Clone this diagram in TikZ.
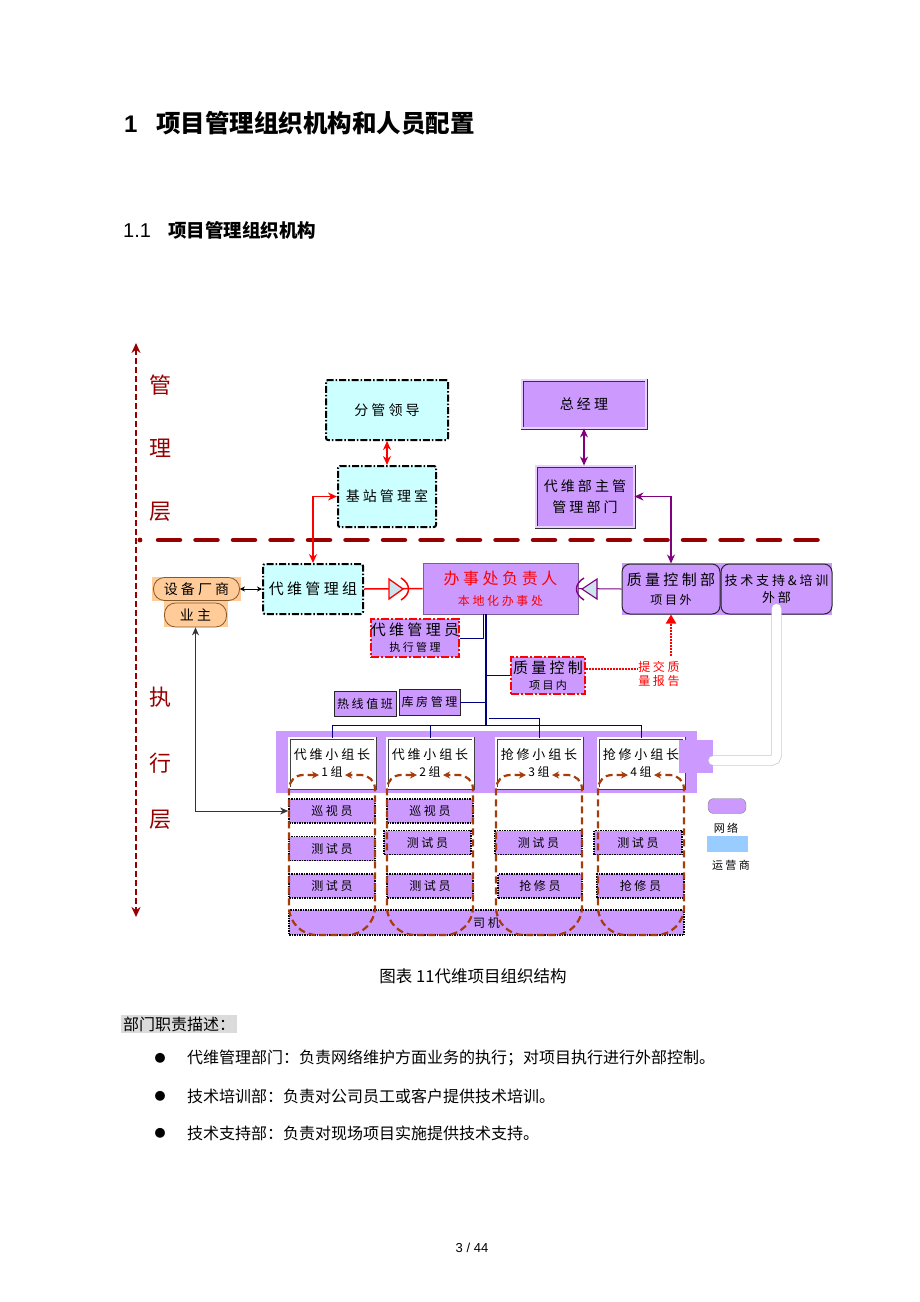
\documentclass[tikz,border=0pt]{standalone}
\usepackage{fontspec}
\setmainfont{Noto Sans CJK SC}
\newfontfamily\wide[LetterSpace=22]{Noto Sans CJK SC}
\newfontfamily\arial{Liberation Sans}
\usetikzlibrary{arrows.meta}
\tikzset {>=Stealth}
\definecolor{lilac}{RGB}{204,153,255}
\definecolor{paleCyan}{RGB}{204,255,255}
\definecolor{axisred}{RGB}{150,0,0}
\definecolor{grpbrown}{RGB}{165,60,10}
\definecolor{navyline}{RGB}{0,0,128}
\definecolor{peach}{RGB}{255,204,153}
\definecolor{skyblue}{RGB}{153,204,255}
\definecolor{plum}{RGB}{128,0,128}
\definecolor{diodefill}{RGB}{205,228,238}
\newcommand\fsz[1]{\fontsize{#1}{#1}\selectfont}
\tikzset{
  cyanbox/.style={draw=black,fill=paleCyan,line width=2pt,
    dash pattern=on 7pt off 2pt on 1.5pt off 2pt,rounded corners=2pt,
    align=center,inner sep=0pt},
  purbox/.style={fill=lilac,draw=black!80,double=lilac!45!white,
    double distance=1.2pt,line width=0.9pt,align=center,inner sep=0pt},
  redbox/.style={fill=lilac,draw=red,line width=2pt,
    dash pattern=on 8pt off 2pt on 2pt off 2pt,align=center,inner sep=0pt},
  plainbox/.style={fill=lilac,draw=black!85,line width=0.9pt,
    align=center,inner sep=0pt},
  roundbox/.style={fill=lilac,draw=black!85,line width=1pt,
    rounded corners=8pt,align=center,inner sep=0pt},
  vendorbox/.style={fill=peach,draw=brown!70!black,line width=0.8pt,
    rounded corners=11pt,inner sep=0pt,font=\wide\fsz{14}},
  leader/.style={fill=white,draw=black!75,double=white,double distance=1.4pt,
    line width=0.8pt,align=center,inner sep=0pt,font=\wide\fsz{13},
    minimum width=86pt,minimum height=50pt},
  member/.style={fill=lilac,draw=black,line width=1.8pt,
    dash pattern=on 1.5pt off 1pt,inner sep=0pt,font=\wide\fsz{12},
    minimum height=24pt},
  grp/.style={draw=grpbrown,line width=2.2pt,dash pattern=on 7pt off 4pt,
    {Stealth[length=7pt,width=7pt]}-{Stealth[length=7pt,width=7pt]}},
  layer/.style={text=axisred,font=\fsz{22},inner sep=0pt},
  redarrow/.style={red,line width=1.5pt,
    {Stealth[length=9pt,width=8pt]}-{Stealth[length=9pt,width=8pt]}},
  purarrow/.style={plum,line width=1.2pt,
    {Stealth[length=9pt,width=8pt]}-{Stealth[length=9pt,width=8pt]}},
  tree/.style={navyline,line width=0.9pt},
}

\begin{document}
\begin{tikzpicture}[x=1pt,y=-1pt]
\useasboundingbox (0,0) rectangle (920,1302);

% headings
\node[anchor=base west,font=\arial\bfseries\fsz{24},inner sep=0pt] (h1num) at (124,132) {1};
\node[anchor=base west,font=\bfseries\fsz{24.5},inner sep=0pt] (h1) at (156,132) {项目管理组织机构和人员配置};
\node[anchor=base west,font=\arial\fsz{20},inner sep=0pt] (h2num) at (123,237) {1.1};
\node[anchor=base west,font=\bfseries\fsz{18.5},inner sep=0pt] (h2) at (168,237) {项目管理组织机构};

% layer axis
\draw[axisred,line width=2.5pt,dash pattern=on 6pt off 3pt,
  {Stealth[length=10pt,width=9pt]}-{Stealth[length=10pt,width=9pt]}] (136,343) -- (136,917);
\fill[axisred] (140,540) circle[radius=2.4pt];
\draw[axisred,line width=4.5pt,line cap=round,dash pattern=on 22pt off 15.5pt] (158,540) -- (822,540);
\foreach \t/\y [count=\i] in {管/385,理/448,层/512,执/697,行/763,层/820}
  \node[layer] (lay\i) at (160,\y) {\t};

% management level
\node[cyanbox,minimum width=122pt,minimum height=60pt,font=\wide\fsz{14}] (lead) at (387,410) {分管领导};
\node[cyanbox,minimum width=98pt,minimum height=61pt,font=\wide\fsz{14}] (jizhan) at (387,496.5) {基站管理室};
\node[purbox,minimum width=124pt,minimum height=48pt,font=\wide\fsz{14}] (gm) at (584,404) {总经理};
\node[purbox,minimum width=98pt,minimum height=61pt,font=\wide\fsz{14}] (dept) at (585,496.5)
  {代维部主管\\[7pt]管理部门};

% execution level
\fill[peach] (152,577) rectangle (241,601);
\fill[peach] (164,601) rectangle (228,627);
\node[vendorbox,minimum width=86pt,minimum height=23pt] (vendor) at (196.5,589) {设备厂商};
\node[vendorbox,minimum width=62pt,minimum height=24pt] (owner) at (195.5,615) {业主};
\node[cyanbox,minimum width=100pt,minimum height=50pt,font=\wide\fsz{15}] (dwgroup) at (313,589) {代维管理组};
\node[plainbox,draw=lilac!60!black,minimum width=155pt,minimum height=51pt,text=red,
  font=\wide\fsz{16}] (office) at (500.5,588.5)
  {办事处负责人\\[5pt]{\fsz{12}本地化办事处}};
\fill[lilac] (622,563) rectangle (832,615);
\node[roundbox,minimum width=98pt,minimum height=50pt,font=\wide\fsz{15}] (qcout) at (671,589)
  {质量控制部\\[4pt]{\fsz{12}项目外}};
\node[roundbox,minimum width=111pt,minimum height=50pt,font=\wide\fsz{13}] (tech) at (776.5,589)
  {技术支持\&培训\\[4pt]外部};
\node[redbox,minimum width=86pt,minimum height=38pt,font=\wide\fsz{15}] (admin) at (415,638)
  {代维管理员\\[1pt]{\fsz{11}执行管理}};
\node[redbox,minimum width=74pt,minimum height=37pt,font=\wide\fsz{15}] (qcin) at (548,675.5)
  {质量控制\\[1pt]{\fsz{11}项目内}};
\node[plainbox,minimum width=61pt,minimum height=26pt,font=\wide\fsz{12}] (store) at (429.5,702) {库房管理};
\node[plainbox,minimum width=62pt,minimum height=25pt,font=\wide\fsz{12}] (hotline) at (365,703.5) {热线值班};
\node[text=red,align=center,inner sep=0pt,font=\wide\fsz{12}] (report) at (659,674) {提交质\\[2pt]量报告};

% group leaders
\fill[lilac] (276,731) rectangle (697,793);
\foreach \cx/\n/\t in {332/1/代维小组长,430/2/代维小组长,539/3/抢修小组长,641/4/抢修小组长}
  \node[leader] (lead\n) at (\cx,763) {\t\\[4pt]{\fsz{12}\n{}组}};
\node[fill=lilac,minimum width=34pt,minimum height=33pt,inner sep=0pt] (bandext) at (696,756.5) {};

% members
\node[member,minimum width=86pt] (xs1) at (332,811) {巡视员};
\node[member,minimum width=86pt] (cs1a) at (332,848.5) {测试员};
\node[member,minimum width=86pt] (cs1b) at (332,886) {测试员};
\node[member,minimum width=86pt] (xs2) at (430,811) {巡视员};
\node[member,minimum width=87pt] (cs2a) at (427.5,842.5) {测试员};
\node[member,minimum width=86pt] (cs2b) at (430,886) {测试员};
\node[member,minimum width=87pt] (cs3) at (538.5,842.5) {测试员};
\node[member,minimum width=84pt] (qx3) at (540,886) {抢修员};
\node[member,minimum width=88pt] (cs4) at (638,842.5) {测试员};
\node[member,minimum width=87pt] (qx4) at (640.5,886) {抢修员};
\node[member,minimum width=395pt,minimum height=25pt] (driver) at (486.5,922.5) {司机};

% group outlines
\foreach \cx in {332,430,539,641}
  \draw[grp] (\cx-13,775) [rounded corners=14pt] -- (\cx-43,775) -- (\cx-43,850)
    [rounded corners=28pt] -- (\cx-43,935) -- (\cx+43,935) -- (\cx+43,850)
    [rounded corners=14pt] -- (\cx+43,775) -- (\cx+13,775);

% legend
\node[fill=lilac,draw=gray,rounded corners=6pt,minimum width=38pt,minimum height=15pt,inner sep=0pt] (legnet) at (727,806) {};
\node[font=\wide\fsz{11},inner sep=0pt] (legnettxt) at (726,828) {网络};
\node[fill=skyblue,minimum width=41pt,minimum height=16pt,inner sep=0pt] (legop) at (727.5,843.5) {};
\node[font=\wide\fsz{11},inner sep=0pt] (legoptxt) at (731,865) {运营商};

% connectors
\draw[redarrow] (lead.south) -- (jizhan.north);
\draw[redarrow] (dwgroup.north) |- (jizhan.west);
\draw[purarrow] (gm.south) -- (gm.south |- dept.north);
\draw[purarrow] (qcout.north) |- (dept.east);
\draw[black,line width=0.6pt,{Stealth[length=5pt,width=5pt]}-{Stealth[length=5pt,width=5pt]}] (vendor.east) -- (dwgroup.west);
\draw[black!80,line width=0.8pt,{Stealth[length=8pt,width=7pt]}-{Stealth[length=8pt,width=7pt]}] (owner.south) |- (xs1.west);
\draw[red,line width=1.5pt] (dwgroup.east) -- (office.west);
\draw[red,line width=1.3pt,fill=diodefill] (389,579) -- (403,589) -- (389,599) -- cycle;
\draw[red,line width=1.5pt] (401,578) .. controls (411,584) and (411,594) .. (401,600);
\draw[plum,line width=1pt] (office.east) -- (qcout.west);
\draw[plum,line width=1.1pt,fill=diodefill] (597,579) -- (582,589) -- (597,599) -- cycle;
\draw[plum,line width=1.4pt] (584,578) .. controls (574,584) and (574,594) .. (584,600);
\draw[gray!45,line width=0.7pt,double=white,double distance=9pt,line cap=round,rounded corners=5pt]
  ([yshift=6pt]tech.south) |- ([yshift=-4pt]bandext.east);

% office tree
\coordinate (trunk) at ([xshift=-14.5pt]office.south);
\coordinate (bus) at (486,725);
\draw[navyline,line width=2.2pt] (trunk) -- (bus);
\draw[tree] (admin.east) -| ([xshift=-3pt]trunk);
\draw[tree] (qcin.west) -- (qcin.west -| bus);
\draw[tree] (store.east) -- (store.east -| bus);
\draw[tree] (lead1.north) |- (bus) -| (lead4.north);
\draw[tree] (lead2.north) -- (lead2.north |- bus);
\draw[tree] ([xshift=3pt]bus |- 0,718) -| (lead3.north);
\draw[red,line width=2pt,dash pattern=on 2pt off 1pt] ([yshift=7pt]qcin.east) -- ([yshift=7pt]qcin.east -| report.west);
\draw[red,line width=2pt,dash pattern=on 2pt off 1pt,-{Triangle[length=9pt,width=10pt]}]
  (qcout.south |- 0,656) -- (qcout.south);

% caption and text
\node[font=\fsz{16.5},inner sep=0pt] (caption) at (473,976) {图表 11代维项目组织结构};
\node[fill=gray!28,anchor=west,inner sep=2pt,font=\fsz{16}] (duty) at (121,1024) {部门职责描述：};
\foreach \t/\y [count=\i] in {代维管理部门：负责网络维护方面业务的执行；对项目执行进行外部控制。/1058,
    技术培训部：负责对公司员工或客户提供技术培训。/1096,
    技术支持部：负责对现场项目实施提供技术支持。/1133}{
  \node[font=\fsz{11},inner sep=0pt] (dot\i) at (160,\y) {●};
  \node[anchor=west,font=\fsz{16},inner sep=0pt] (item\i) at (187,\y) {\t};
}
\node[font=\arial\fsz{13},inner sep=0pt] (pagenum) at (472,1248) {3 / 44};
\end{tikzpicture}
\end{document}
